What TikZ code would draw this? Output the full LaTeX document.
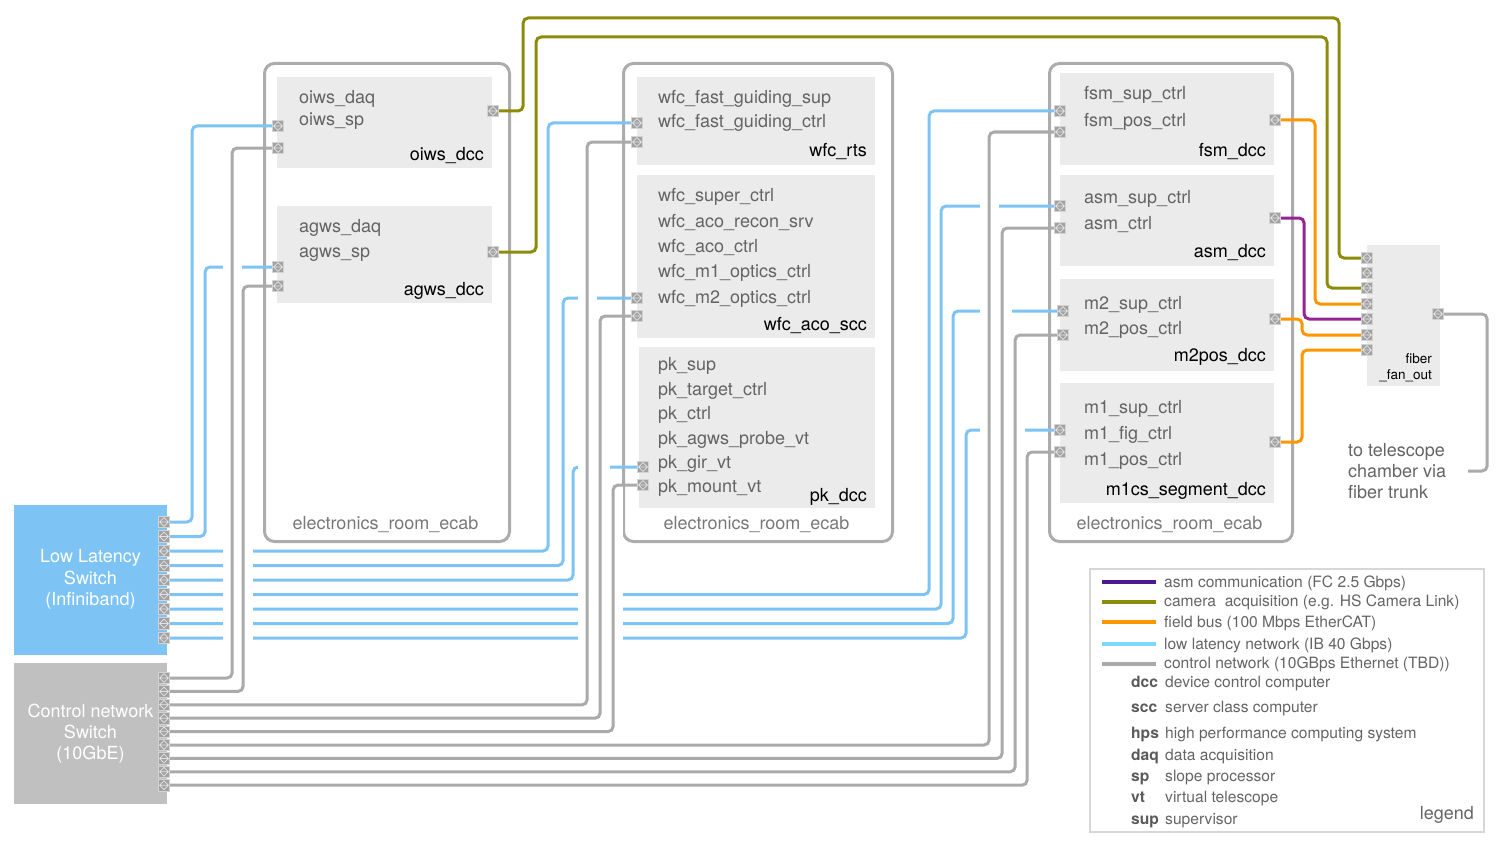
\documentclass[tikz,border=0pt]{standalone}
\usepackage{fontspec}
\setmainfont{TeX Gyre Heros}
\definecolor{llblue}{RGB}{125,196,245}
\definecolor{ctlgray}{RGB}{170,170,170}
\definecolor{swgray}{RGB}{192,192,192}
\definecolor{boxfill}{RGB}{235,235,235}
\definecolor{cabgray}{RGB}{172,172,172}
\definecolor{olivec}{RGB}{140,140,10}
\definecolor{orangec}{RGB}{255,150,0}
\definecolor{purplec}{RGB}{150,35,150}
\definecolor{legpurple}{RGB}{75,25,145}
\definecolor{legblue}{RGB}{125,215,255}
\definecolor{txtgray}{RGB}{100,100,100}
\definecolor{labgray}{RGB}{120,120,120}
\definecolor{portfill}{RGB}{162,162,162}
\definecolor{portedge}{RGB}{212,212,212}
\definecolor{portmark}{RGB}{228,228,228}
\definecolor{legborder}{RGB}{215,215,215}
\pgfdeclarelayer{bgl}
\pgfdeclarelayer{wirel}
\pgfsetlayers{bgl,wirel,main}
\begin{document}
\begin{tikzpicture}[x=1pt,y=-1pt,
  cab/.style={draw=cabgray, line width=3pt, rounded corners=10pt, anchor=north west, inner sep=0},
  ibox/.style={fill=boxfill, anchor=north west, inner sep=0},
  port/.style={rectangle, inner sep=0, minimum size=11.5pt, fill=portfill, draw=portedge, line width=0.7pt,
    path picture={\draw[portmark, line width=0.7pt]
      ([yshift=4.4pt]path picture bounding box.center) -- ([xshift=4.4pt]path picture bounding box.center)
      -- ([yshift=-4.4pt]path picture bounding box.center) -- ([xshift=-4.4pt]path picture bounding box.center) -- cycle
      ([xshift=-4.4pt]path picture bounding box.center) -- ([xshift=4.4pt]path picture bounding box.center);}},
  wire/.style={line width=3pt, rounded corners=5pt},
  bl/.style={wire, draw=llblue},
  gr/.style={wire, draw=ctlgray},
  ol/.style={wire, draw=olivec},
  orw/.style={wire, draw=orangec},
  pu/.style={wire, draw=purplec},
  gapw/.style={draw=white, line width=19pt},
  txt/.style={font=\fontsize{18}{21}\selectfont, text=txtgray, inner sep=0, anchor=base west},
  txtname/.style={font=\fontsize{18}{21}\selectfont, text=black, inner sep=0, anchor=base east},
  txtcab/.style={font=\fontsize{18}{21}\selectfont, text=labgray, inner sep=0, anchor=base},
  leg/.style={font=\fontsize{15.6}{18}\selectfont, text=txtgray, inner sep=0, anchor=base west},
  legb/.style={font=\fontsize{15.6}{18}\selectfont\bfseries, text=txtgray!90!black, inner sep=0, anchor=base west},
  swatch/.style={line width=3.5pt}
]
\useasboundingbox (0,0) rectangle (1506,848);

\begin{pgfonlayer}{bgl}
% ---------- cabinets ----------
\node[cab, minimum width=245pt, minimum height=478pt] (cab1) at (263,62) {};
\node[cab, minimum width=269pt, minimum height=478pt] (cab2) at (622,62) {};
\node[cab, minimum width=243pt, minimum height=478pt] (cab3) at (1048,62) {};
% ---------- inner boxes ----------
\node[ibox, minimum width=215pt, minimum height=91pt] (oiws) at (277,77) {};
\node[ibox, minimum width=215pt, minimum height=97pt] (agws) at (277,206) {};
\node[ibox, minimum width=238pt, minimum height=88pt] (rts) at (637,77) {};
\node[ibox, minimum width=238pt, minimum height=163pt] (aco) at (637,175) {};
\node[ibox, minimum width=236pt, minimum height=161pt] (pk) at (639,347) {};
\node[ibox, minimum width=214pt, minimum height=92pt] (fsm) at (1060,73) {};
\node[ibox, minimum width=214pt, minimum height=91pt] (asm) at (1060,175) {};
\node[ibox, minimum width=214pt, minimum height=92pt] (m2) at (1060,279) {};
\node[ibox, minimum width=214pt, minimum height=120pt] (m1) at (1060,383) {};
\node[ibox, minimum width=73pt, minimum height=141pt] (fan) at (1367,245) {};
% ---------- switches ----------
\node[fill=llblue, minimum width=153pt, minimum height=150pt, inner sep=0, text=white, align=center,
      font=\fontsize{18}{21.3}\selectfont] (llsw) at (90.5,579.5) {Low Latency\\Switch\\(Infiniband)};
\node[fill=swgray, minimum width=153pt, minimum height=141pt, inner sep=0, text=white, align=center,
      font=\fontsize{18}{21.3}\selectfont] (cssw) at (90.5,733.5) {Control network\\Switch\\(10GbE)};
\end{pgfonlayer}

\node[txtcab] (cab1l) at (385.5,529) {electronics\_room\_ecab};
\node[txtcab] (cab2l) at (756.5,529) {electronics\_room\_ecab};
\node[txtcab] (cab3l) at (1169.5,529) {electronics\_room\_ecab};

% ---------- texts in boxes ----------
\node[txt] (o1) at (299,103) {oiws\_daq};
\node[txt] (o2) at (299,125) {oiws\_sp};
\node[txtname] (o3) at (484,160) {oiws\_dcc};
\node[txt] (a1) at (299,232) {agws\_daq};
\node[txt] (a2) at (299,257) {agws\_sp};
\node[txtname] (a3) at (484,295) {agws\_dcc};

\node[txt] (r1) at (658,103) {wfc\_fast\_guiding\_sup};
\node[txt] (r2) at (658,128) {wfc\_fast\_guiding\_ctrl};
\node[txtname] (r3) at (867,156) {wfc\_rts};
\node[txt] (w1) at (658,201) {wfc\_super\_ctrl};
\node[txt] (w2) at (658,227) {wfc\_aco\_recon\_srv};
\node[txt] (w3) at (658,252) {wfc\_aco\_ctrl};
\node[txt] (w4) at (658,277) {wfc\_m1\_optics\_ctrl};
\node[txt] (w5) at (658,303) {wfc\_m2\_optics\_ctrl};
\node[txtname] (w6) at (867,330) {wfc\_aco\_scc};
\node[txt] (k1) at (658,370) {pk\_sup};
\node[txt] (k2) at (658,395) {pk\_target\_ctrl};
\node[txt] (k3) at (658,419) {pk\_ctrl};
\node[txt] (k4) at (658,444) {pk\_agws\_probe\_vt};
\node[txt] (k5) at (658,468) {pk\_gir\_vt};
\node[txt] (k6) at (658,492) {pk\_mount\_vt};
\node[txtname] (k7) at (867,501) {pk\_dcc};

\node[txt] (f1t) at (1084,100) {fsm\_sup\_ctrl};
\node[txt] (f2t) at (1084,126) {fsm\_pos\_ctrl};
\node[txtname] (f3t) at (1266,156) {fsm\_dcc};
\node[txt] (s1t) at (1084,203) {asm\_sup\_ctrl};
\node[txt] (s2t) at (1084,229) {asm\_ctrl};
\node[txtname] (s3t) at (1266,257) {asm\_dcc};
\node[txt] (m2a) at (1084,309) {m2\_sup\_ctrl};
\node[txt] (m2b) at (1084,334) {m2\_pos\_ctrl};
\node[txtname] (m2c) at (1266,361) {m2pos\_dcc};
\node[txt] (m1a) at (1084,413) {m1\_sup\_ctrl};
\node[txt] (m1b) at (1084,439) {m1\_fig\_ctrl};
\node[txt] (m1c) at (1084,465) {m1\_pos\_ctrl};
\node[txtname] (m1d) at (1266,495) {m1cs\_segment\_dcc};

\node[font=\fontsize{13.5}{16}\selectfont, inner sep=0, anchor=base east] (fan1t) at (1432,363.5) {fiber};
\node[font=\fontsize{13.5}{16}\selectfont, inner sep=0, anchor=base east] (fan2t) at (1432,379.5) {\_fan\_out};

\node[txt] (tel1) at (1348,456) {to telescope};
\node[txt] (tel2) at (1348,477) {chamber via};
\node[txt] (tel3) at (1348,498) {fiber trunk};

% ---------- ports ----------
\foreach \i in {1,...,9} {
  \node[port] (ll\i) at (164,{522+14.5*(\i-1)}) {};
  \node[port] (cs\i) at (164,{678+13.4*(\i-1)}) {};
}
\node[port] (oL1) at (278,126) {};
\node[port] (oL2) at (278,148) {};
\node[port] (oR) at (493,111) {};
\node[port] (aL1) at (278,267) {};
\node[port] (aL2) at (278,286) {};
\node[port] (aR) at (493,252) {};
\node[port] (rL1) at (637,123) {};
\node[port] (rL2) at (637,142) {};
\node[port] (wL1) at (637,298) {};
\node[port] (wL2) at (637,316) {};
\node[port] (kL1) at (643,467) {};
\node[port] (kL2) at (643,485) {};
\node[port] (fL1) at (1060,111) {};
\node[port] (fL2) at (1060,132) {};
\node[port] (fR) at (1275,120) {};
\node[port] (sL1) at (1060,206) {};
\node[port] (sL2) at (1060,228) {};
\node[port] (sR) at (1275,218) {};
\node[port] (mL1) at (1063,311) {};
\node[port] (mL2) at (1063,335) {};
\node[port] (mR) at (1275,319) {};
\node[port] (nL1) at (1060,430) {};
\node[port] (nL2) at (1060,452) {};
\node[port] (nR) at (1275,442) {};
\foreach \i/\y in {1/258,2/273,3/288,4/304,5/319,6/335,7/350}
  \node[port] (fan\i) at (1367,\y) {};
\node[port] (fanR) at (1438,314) {};
\coordinate (tele) at (1468,471);

\begin{pgfonlayer}{wirel}
% ---------- low latency network ----------
\draw[bl] (ll1.east) -- ++(22,0) |- (oL1.west);
\draw[bl] (ll2.east) -- ++(35,0) |- (aL1.west);
\draw[bl] (ll3.east) -- ++(378,0) |- (rL1.west);
\draw[bl] (ll4.east) -- ++(393,0) |- (wL1.west);
\draw[bl] (ll5.east) -- ++(403,0) |- (kL1.west);
\draw[bl] (ll6.east) -- ++(759,0) |- (fL1.west);
\draw[bl] (ll7.east) -- ++(771,0) |- (sL1.west);
\draw[bl] (ll8.east) -- ++(783,0) |- (mL1.west);
\draw[bl] (ll9.east) -- ++(796,0) |- (nL1.west);

% gaps where control lines cross
\foreach \x/\ya/\yb in {232/148/678, 243/286/691.4, 587/142/704.8, 600/316/718.2, 613/485/731.6,
                        989/132/745, 1002/228/758.4, 1015/335/771.8, 1027/452/785.2}
  \draw[gapw] (\x,\ya) -- (\x,\yb);

% ---------- control network ----------
\draw[gr] (cs1.east) -- ++(62,0) |- (oL2.west);
\draw[gr] (cs2.east) -- ++(73,0) |- (aL2.west);
\draw[gr] (cs3.east) -- ++(417,0) |- (rL2.west);
\draw[gr] (cs4.east) -- ++(430,0) |- (wL2.west);
\draw[gr] (cs5.east) -- ++(443,0) |- (kL2.west);
\draw[gr] (cs6.east) -- ++(819,0) |- (fL2.west);
\draw[gr] (cs7.east) -- ++(832,0) |- (sL2.west);
\draw[gr] (cs8.east) -- ++(845,0) |- (mL2.west);
\draw[gr] (cs9.east) -- ++(857,0) |- (nL2.west);
\draw[gr] (fanR.east) -- ++(43,0) |- (tele);

% ---------- camera acquisition ----------
\draw[ol] (oR.east) -- ++(24,0) |- (1339,18) |- (fan1.west);
\draw[ol] (aR.east) -- ++(37,0) |- (1327,37) |- (fan3.west);

% ---------- field bus / asm ----------
\draw[orw] (fR.east) -- ++(34,0) |- (fan4.west);
\draw[pu] (sR.east) -- ++(23,0) |- (fan5.west);
\draw[orw] (mR.east) -- ++(21,0) |- (fan6.west);
\draw[orw] (nR.east) -- ++(21,0) |- (fan7.west);
\end{pgfonlayer}

% ---------- legend ----------
\node[draw=legborder, line width=1.5pt, minimum width=394pt, minimum height=263pt, anchor=north west, inner sep=0] (legbox) at (1089,568) {};
\draw[swatch, legpurple] (1102,582) -- (1156,582);
\draw[swatch, olivec] (1102,602) -- (1156,602);
\draw[swatch, orangec] (1102,622) -- (1156,622);
\draw[swatch, legblue] (1102,644) -- (1156,644);
\draw[swatch, ctlgray] (1102,664) -- (1156,664);
\node[leg] (lg1) at (1164,587.5) {asm communication (FC 2.5 Gbps)};
\node[leg] (lg2) at (1164,606.5) {camera~ acquisition (e.g. HS Camera Link)};
\node[leg] (lg3) at (1164,627) {field bus (100 Mbps EtherCAT)};
\node[leg] (lg4) at (1164,649.5) {low latency network (IB 40 Gbps)};
\node[leg] (lg5) at (1164,668) {control network (10GBps Ethernet (TBD))};
\foreach \ab/\de/\y [count=\k] in {dcc/device control computer/687.5, scc/server class computer/712.5,
   hps/high performance computing system/738, daq/data acquisition/760, sp/slope processor/781,
   vt/virtual telescope/802, sup/supervisor/824} {
  \node[legb] (ab\k) at (1131,\y) {\ab};
  \node[leg] (de\k) at (1165,\y) {\de};
}
\node[font=\fontsize{18}{21}\selectfont, text=txtgray, inner sep=0, anchor=base east] (legt) at (1474,819) {legend};
\end{tikzpicture}
\end{document}
